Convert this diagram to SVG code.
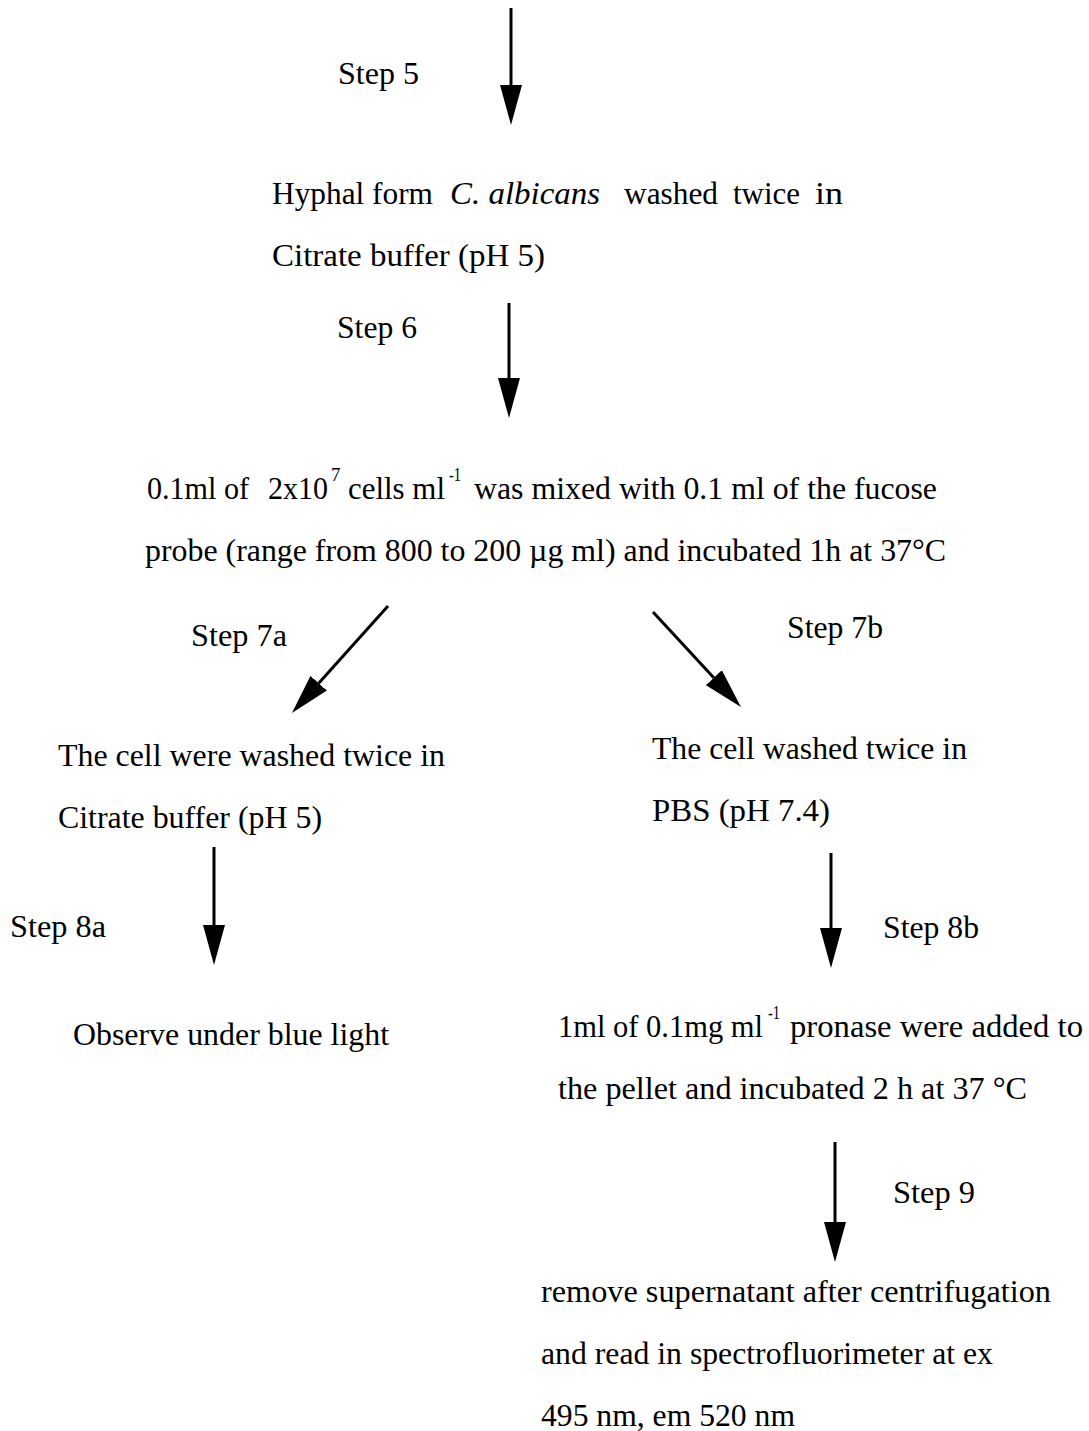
<svg xmlns="http://www.w3.org/2000/svg" width="1089" height="1431" viewBox="0 0 1089 1431">
<style>
text{font-family:'Liberation Serif','Times New Roman',serif;font-size:31px;fill:#000}
.sup{font-size:19px}
.it{font-style:italic}
.conn line{stroke:#000;stroke-width:3}
</style>
<defs>
<marker id="ah" viewBox="0 0 40 22" refX="0" refY="11" markerWidth="40" markerHeight="22" markerUnits="userSpaceOnUse" orient="auto">
<path d="M0,0 L40,11 L0,22 z" fill="#000"/>
</marker>
</defs>
<rect width="1089" height="1431" fill="#fff"/>
<g class="conn" id="connectors">
<line x1="511" y1="8" x2="511" y2="85" marker-end="url(#ah)"/>
<line x1="509" y1="303" x2="509" y2="378" marker-end="url(#ah)"/>
<line x1="388" y1="606" x2="318.7" y2="683.2" marker-end="url(#ah)"/>
<line x1="653" y1="612" x2="713.8" y2="677.7" marker-end="url(#ah)"/>
<line x1="214" y1="847" x2="214" y2="925" marker-end="url(#ah)"/>
<line x1="831" y1="853" x2="831" y2="928" marker-end="url(#ah)"/>
<line x1="835" y1="1142" x2="835" y2="1222" marker-end="url(#ah)"/>
</g>
<g id="labels">
<text x="338" y="84" textLength="81" lengthAdjust="spacingAndGlyphs">Step 5</text>
<text x="337" y="338" textLength="80" lengthAdjust="spacingAndGlyphs">Step 6</text>
<text x="191" y="646" textLength="96" lengthAdjust="spacingAndGlyphs">Step 7a</text>
<text x="787" y="638" textLength="96" lengthAdjust="spacingAndGlyphs">Step 7b</text>
<text x="10" y="937" textLength="96" lengthAdjust="spacingAndGlyphs">Step 8a</text>
<text x="883" y="938" textLength="96" lengthAdjust="spacingAndGlyphs">Step 8b</text>
<text x="893" y="1203" textLength="82" lengthAdjust="spacingAndGlyphs">Step 9</text>
</g>
<g id="node-hyphal">
<text x="272" y="204" textLength="161" lengthAdjust="spacingAndGlyphs">Hyphal form</text>
<text x="450" y="204" class="it" textLength="150" lengthAdjust="spacingAndGlyphs">C. albicans</text>
<text x="624" y="204" textLength="94" lengthAdjust="spacingAndGlyphs">washed</text>
<text x="733" y="204" textLength="67" lengthAdjust="spacingAndGlyphs">twice</text>
<text x="815" y="204" textLength="28" lengthAdjust="spacingAndGlyphs">in</text>
<text x="272" y="266" textLength="273" lengthAdjust="spacingAndGlyphs">Citrate buffer  (pH 5)</text>
</g>
<g id="node-mix">
<text x="147" y="499" textLength="102" lengthAdjust="spacingAndGlyphs">0.1ml of</text>
<text x="268" y="499" textLength="60" lengthAdjust="spacingAndGlyphs">2x10</text>
<text x="331" y="481" class="sup">7</text>
<text x="348" y="499" textLength="97" lengthAdjust="spacingAndGlyphs">cells ml</text>
<text x="449" y="481" class="sup" textLength="12" lengthAdjust="spacingAndGlyphs">-1</text>
<text x="474" y="499" textLength="463" lengthAdjust="spacingAndGlyphs">was mixed with 0.1 ml of the fucose</text>
<text x="145" y="561" textLength="801" lengthAdjust="spacingAndGlyphs">probe (range from 800 to 200 µg ml) and incubated 1h at 37°C</text>
</g>
<g id="node-citrate">
<text x="58" y="766" textLength="387" lengthAdjust="spacingAndGlyphs">The cell were washed twice in</text>
<text x="58" y="828" textLength="264" lengthAdjust="spacingAndGlyphs">Citrate buffer (pH 5)</text>
</g>
<g id="node-pbs">
<text x="652" y="759" textLength="315" lengthAdjust="spacingAndGlyphs">The cell washed twice in</text>
<text x="652" y="821" textLength="178" lengthAdjust="spacingAndGlyphs">PBS  (pH 7.4)</text>
</g>
<g id="node-observe">
<text x="73" y="1045" textLength="316" lengthAdjust="spacingAndGlyphs">Observe under blue light</text>
</g>
<g id="node-pronase">
<text x="558" y="1037" textLength="205" lengthAdjust="spacingAndGlyphs">1ml of 0.1mg ml</text>
<text x="768" y="1019" class="sup" textLength="12" lengthAdjust="spacingAndGlyphs">-1</text>
<text x="790" y="1037" textLength="293" lengthAdjust="spacingAndGlyphs">pronase were added to</text>
<text x="558" y="1099" textLength="469" lengthAdjust="spacingAndGlyphs">the  pellet and incubated 2 h at 37 °C</text>
</g>
<g id="node-read">
<text x="541" y="1302" textLength="510" lengthAdjust="spacingAndGlyphs">remove supernatant  after centrifugation</text>
<text x="541" y="1364" textLength="452" lengthAdjust="spacingAndGlyphs">and read in spectrofluorimeter at ex</text>
<text x="541" y="1426" textLength="254" lengthAdjust="spacingAndGlyphs">495 nm, em 520 nm</text>
</g>
</svg>
